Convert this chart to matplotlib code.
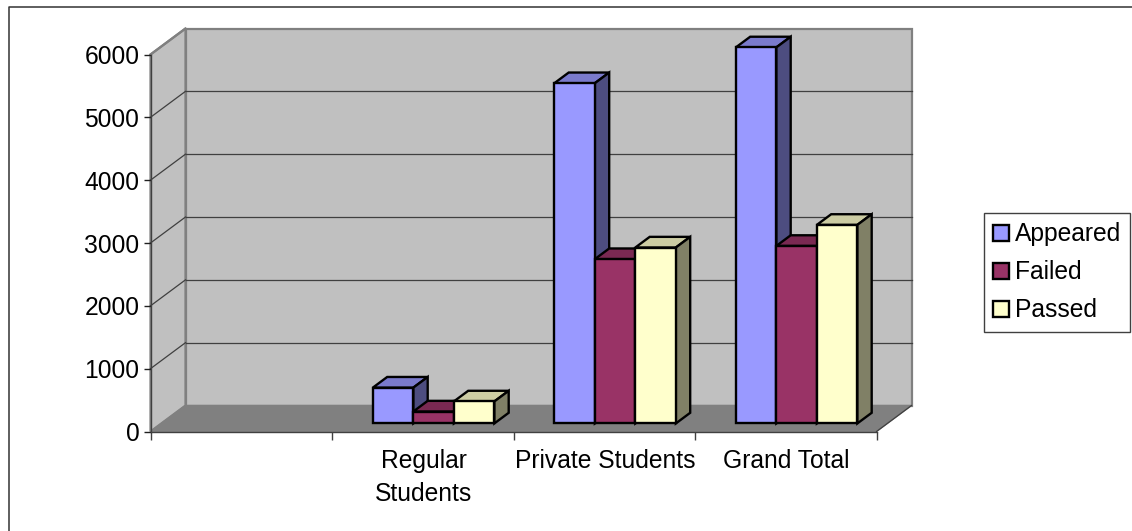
import matplotlib
matplotlib.use('Agg')
import matplotlib.pyplot as plt
from matplotlib.lines import Line2D
from matplotlib.patches import Polygon, Patch

plt.rcParams['font.family'] = ['Liberation Sans', 'DejaVu Sans']

# first category slot is empty in the original
categories = ['', 'Regular\nStudents', 'Private Students', 'Grand Total']
series_names = ['Appeared', 'Failed', 'Passed']
appeared = [0, 570, 5415, 5985]
failed = [0, 190, 2615, 2825]
passed = [0, 350, 2800, 3160]
y_ticks = [0, 1000, 2000, 3000, 4000, 5000, 6000]

front_colors = ['#9999FF', '#993366', '#FFFFCC']
top_colors = ['#7A7ACC', '#7A2952', '#CCCCA3']
side_colors = ['#4D4D80', '#4D1A33', '#808066']

W, H = 1132, 531
fig = plt.figure(figsize=(W / 100, H / 100), dpi=100)
fig.patch.set_facecolor('white')
# only the top and left of the chart frame fall inside the picture
fig.add_artist(Line2D([8.5 / W, 8.5 / W, 1132 / W], [0, 1 - 6.5 / H, 1 - 6.5 / H],
                      color='#333333', lw=1.1, transform=fig.transFigure))

# front plane of the 3d box, in pixels
left, right, bottom, top = 150.5, 876.5, 431.5, 54.5
ax = fig.add_axes([left / W, 1 - bottom / H, (right - left) / W, (bottom - top) / H])
ax.set_xlim(0, 4)
ax.set_ylim(0, 6000)
ax.patch.set_visible(False)
for s in ['top', 'right', 'bottom', 'left']:
    ax.spines[s].set_visible(False)

# full depth of the box in data units
depth_x = 35 / ((right - left) / 4)
depth_y = 26 / ((bottom - top) / 6000)


def proj(x, v, d):
    return (x + d * depth_x, v + d * depth_y)


def poly(pts, face, edge='none', lw=0, z=1):
    ax.add_patch(Polygon(pts, closed=True, fc=face, ec=edge, lw=lw, zorder=z,
                         clip_on=False, joinstyle='miter'))


# walls and floor
poly([proj(0, 0, 1), proj(4, 0, 1), proj(4, 6000, 1), proj(0, 6000, 1)], '#C0C0C0', '#808080', 1.6)
poly([proj(0, 0, 0), proj(0, 0, 1), proj(0, 6000, 1), proj(0, 6000, 0)], '#C0C0C0', '#808080', 1.6)
poly([proj(0, 0, 0), proj(4, 0, 0), proj(4, 0, 1), proj(0, 0, 1)], '#808080', '#808080', 1.0)
for v in y_ticks[1:-1]:
    ax.plot(*zip(proj(0, v, 1), proj(4, v, 1)), color='#404040', lw=0.9, zorder=1.5, clip_on=False)
    ax.plot(*zip(proj(0, v, 0), proj(0, v, 1)), color='#404040', lw=0.9, zorder=1.5, clip_on=False)
ax.plot(*zip(proj(0, 6000, 0), proj(0, 6000, 1)), color='#808080', lw=1.6, zorder=1.5, clip_on=False)
# right edge of the floor stays dark, front edge too
ax.plot(*zip(proj(4, 0, 0), proj(4, 0, 1)), color='#404040', lw=0.9, zorder=1.55, clip_on=False)

# axis lines go over the floor
ax.plot([0, 0], [0, 6000], color='#404040', lw=1.0, zorder=1.6, clip_on=False)
ax.plot([0, 4], [0, 0], color='#404040', lw=1.0, zorder=1.6, clip_on=False)

# bars
bar_w = 40.5 / ((right - left) / 4)
gap = (1 - 3 * bar_w) / 2
d0, d1 = 0.31, 0.72
z = 2
for i in range(len(categories)):
    for j, vals in enumerate([appeared, failed, passed]):
        v = vals[i]
        if v == 0:
            continue
        x0 = i + gap + j * bar_w
        x1 = x0 + bar_w
        poly([proj(x0, v, d0), proj(x1, v, d0), proj(x1, v, d1), proj(x0, v, d1)],
             top_colors[j], 'black', 1.7, z)
        poly([proj(x1, 0, d0), proj(x1, 0, d1), proj(x1, v, d1), proj(x1, v, d0)],
             side_colors[j], 'black', 1.7, z)
        poly([proj(x0, 0, d0), proj(x1, 0, d0), proj(x1, v, d0), proj(x0, v, d0)],
             front_colors[j], 'black', 1.7, z)
        z += 1

ax.set_yticks(y_ticks)
ax.set_xticks(range(5))
ax.set_xticklabels([])
ax.tick_params(axis='y', length=5, width=1, color='#202020', labelsize=17.7, pad=3)
ax.tick_params(axis='x', length=6, width=1, color='#404040')
for i, c in enumerate(categories):
    ax.annotate(c, (i + 0.5, 0), xytext=(0.5, -12.5), textcoords='offset points', ha='center', va='top',
                fontsize=17.7, linespacing=1.5, annotation_clip=False)

handles = [Patch(fc=c, ec='black', lw=1.7) for c in front_colors]
leg = fig.legend(handles, series_names, loc='upper left', bbox_to_anchor=(984 / W, 1 - 213 / H),
                 bbox_transform=fig.transFigure, fontsize=17.7, frameon=True, fancybox=False,
                 edgecolor='#404040', framealpha=1, borderpad=0.38, labelspacing=0.57,
                 handlelength=0.62, handleheight=0.62, handletextpad=0.25, borderaxespad=0)
leg.get_frame().set_linewidth(1.0)

fig.savefig('out.png', dpi=100)
